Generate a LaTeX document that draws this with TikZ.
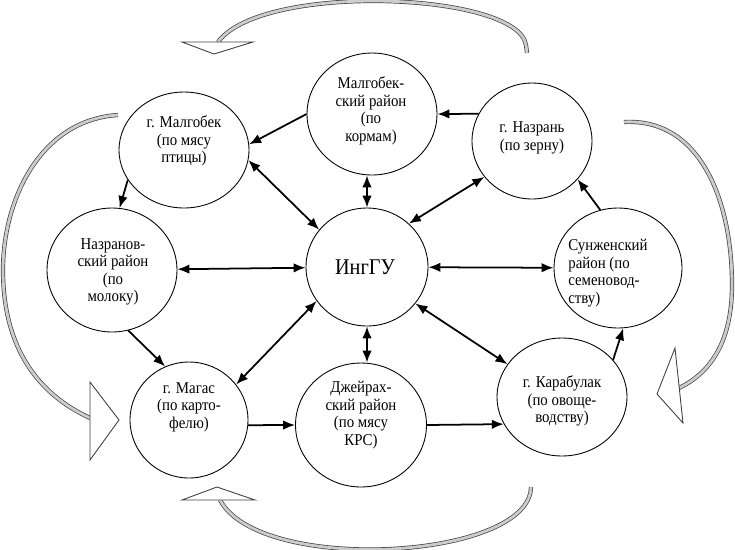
\documentclass[tikz,border=0pt]{standalone}
\usepackage{fontspec}
\setmainfont{Liberation Serif}[FakeStretch=0.9]
\usetikzlibrary{shapes.geometric, arrows.meta}

\begin{document}
\begin{tikzpicture}[x=0.02cm, y=-0.02cm,
    region/.style 2 args={draw, ellipse, line width=0.5pt, inner sep=0pt,
        minimum width=#1, minimum height=#2},
    txt/.style={align=center, inner sep=0pt, font=\fontsize{9.4}{10}\selectfont},
    link/.style={line width=1pt, -{Latex[length=2.4mm, width=1.9mm]}},
    both/.style={line width=1pt, {Latex[length=2.4mm, width=1.9mm]}-{Latex[length=2.4mm, width=1.9mm]}},
    band/.style={draw=black!75, line width=0.4pt, double=gray!40, double distance=1.6pt},
    head/.style={draw=black!75, fill=white, line width=0.5pt}]
    % pixel grid of the reference: x to the right, y downwards
    \useasboundingbox (0,0) rectangle (735,549);

    % Regions (ellipses)
    \node[region={2.6cm}{2.32cm}]  (mgc) at (184,150) {};
    \node[region={2.6cm}{2.44cm}]  (mgr) at (372,114) {};
    \node[region={2.4cm}{2.32cm}]  (nzc) at (532,141) {};
    \node[region={2.6cm}{2.48cm}]  (nzr) at (112,270) {};
    \node[region={2.44cm}{2.36cm}] (ing) at (367,267) {};
    \node[region={2.56cm}{2.4cm}]  (snz) at (618,268) {};
    \node[region={2.36cm}{2.32cm}] (mgs) at (189,420) {};
    \node[region={2.62cm}{2.48cm}] (dzh) at (361,425) {};
    \node[region={2.6cm}{2.36cm}]  (krb) at (562,397) {};

    % Labels of the regions
    \node[txt] (mgc-t) at (184,141) {г. Малгобек\\(по мясу\\птицы)};
    \node[txt] (mgr-t) at (371,111) {Малгобек-\\ский район\\(по\\кормам)};
    \node[txt] (nzc-t) at (532,138) {г. Назрань\\(по зерну)};
    \node[txt] (nzr-t) at (113,272) {Назранов-\\ский район\\(по\\молоку)};
    \node[txt, font=\fontsize{12.8}{14}\selectfont] (ing-t) at (365,267) {ИнгГУ};
    \node[txt, align=left, anchor=west] (snz-t) at (568,273) {Сунженский\\район (по\\семеновод-\\ству)};
    \node[txt] (mgs-t) at (189,407) {г. Магас\\(по карто-\\фелю)};
    \node[txt] (dzh-t) at (361,415) {Джейрах-\\ский район\\(по мясу\\КРС)};
    \node[txt] (krb-t) at (562,401) {г. Карабулак\\(по овоще-\\водству)};

    % One-way links
    \draw[link] (nzc.153) -- (mgr.0);
    \draw[link] (mgr.180) -- (mgc.5);
    \draw[link] (mgc.208) -- (nzr.83);
    \draw[link] (snz.107) -- (nzc.-40);
    \draw[link] (nzr.-75) -- (mgs.114);
    \draw[link] (krb.36) -- (snz.-85);
    \draw[link] (mgs.-5) -- (dzh.180);
    \draw[link] (dzh.east) -- (krb.205);

    % Two-way links with the university
    \draw[both] (mgc.-9) -- (ing.142);
    \draw[both] (ing.north |- mgr.south) -- (ing.north);
    \draw[both] (ing.46) -- (nzc.217);
    \draw[both] (nzr) -- (ing);
    \draw[both] (ing) -- (snz);
    \draw[both] (ing.214) -- (mgs.37);
    \draw[both] (ing.south) -- (ing.south |- dzh.north);
    \draw[both] (ing.-37) -- (krb.149);

    % Big hollow arrows round the scheme
    \draw[band] (527,53) -- (526,45) .. controls (518,-8) and (262,-18) .. (218,42);
    \draw[head] (182,42) -- (253,42) -- (214,54) -- cycle;

    \draw[band] (118,115) .. controls (40,120) and (3,200) .. (3,270)
        .. controls (3,350) and (40,395) .. (90,418);
    \draw[head] (90,382) -- (119,420) -- (90,460) -- cycle;

    \draw[band] (624,122) .. controls (700,118) and (732,200) .. (732,285)
        .. controls (732,340) and (712,372) .. (679,388);
    \draw[head] (675,348) -- (683,423) -- (657,394) -- cycle;

    \draw[band] (531,487) .. controls (530,560) and (260,575) .. (220,500);
    \draw[head] (182,500) -- (255,500) -- (217,487) -- cycle;
\end{tikzpicture}
\end{document}
